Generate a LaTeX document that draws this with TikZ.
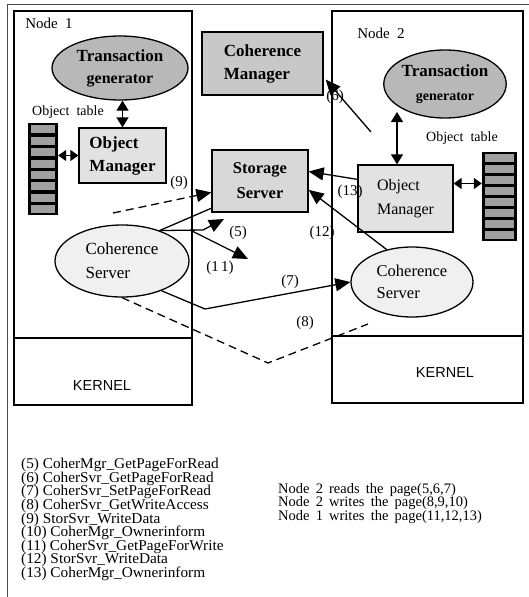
\documentclass[tikz,border=0pt]{standalone}
\usepackage{fontspec}
\setmainfont{Liberation Serif}
\newfontfamily\kernfont{Liberation Sans}
\newfontfamily\legfont[FakeStretch=1.02]{Liberation Serif}
\newfontfamily\legwfont[WordSpace=1.7]{Liberation Serif}
\usetikzlibrary{shapes.geometric,arrows.meta,calc}
\setlength{\lineskiplimit}{-20pt}
\definecolor{tggray}{HTML}{B8B8B8}
\definecolor{cmgray}{HTML}{C8C8C8}
\definecolor{ssgray}{HTML}{D8D8D8}
\definecolor{omgray}{HTML}{E2E2E2}
\definecolor{csgray}{HTML}{F0F0F0}
\definecolor{rowgray}{HTML}{A0A0A0}
\tikzset{
  frame/.style={draw, line width=1.2pt, inner sep=0pt},
  comp/.style={draw, line width=1.3pt, inner sep=0pt, align=left},
  tgen/.style={ellipse, draw, line width=1.3pt, fill=tggray, inner sep=0pt, align=center,
               font=\fontsize{17}{24}\selectfont\bfseries},
  csrv/.style={ellipse, draw, line width=1.3pt, fill=csgray, inner sep=0pt, align=left,
               font=\fontsize{17}{24}\selectfont},
  otab/.style={fill=black, inner sep=0pt, minimum width=30pt},
  lbl/.style={font=\fontsize{15}{15}\selectfont, inner sep=0pt},
  plain/.style={font=\fontsize{14}{14}\selectfont, inner sep=0pt},
  kern/.style={font=\kernfont\fontsize{14.5}{14.5}\selectfont, inner sep=0pt},
  conn/.style={line width=1.3pt},
  tip/.tip={Triangle[length=15pt,width=13pt]},
  stip/.tip={Triangle[length=10pt,width=12pt]},
  xtip/.tip={Triangle[length=8pt,width=11pt]},
  arr/.style={conn, -tip},
  darr/.style={conn, stip-stip},
  sdarr/.style={conn, xtip-xtip},
  dsh/.style={conn, dash pattern=on 8pt off 5pt},
  dsharr/.style={dsh, -tip},
}
\begin{document}
\begin{tikzpicture}[x=1pt,y=-1pt]
\useasboundingbox (0,0) rectangle (529,597);
% outer partial frame
\draw[line width=1pt, black!70] (7,597) -- (7,4) -- (529,4);
% node frames
\node[frame, minimum width=178pt, minimum height=394pt] (n1) at (103,208) {};
\node[frame, minimum width=191pt, minimum height=392pt] (n2) at (427.5,207) {};
\draw[line width=1.2pt] (n1.west |- 0,338) -- (n1.east |- 0,338);
\draw[line width=1.2pt] (n2.west |- 0,336) -- (n2.east |- 0,336);
\node[font=\fontsize{15}{15}\selectfont, inner sep=0pt] (n1lab) at (49,23) {Node\enspace 1};
\node[font=\fontsize{15}{15}\selectfont, inner sep=0pt] (n2lab) at (381,33) {Node\enspace 2};
\node[kern] (k1) at (102,386) {KERNEL};
\node[kern] (k2) at (445,373) {KERNEL};

% components
\node[tgen, minimum width=136pt, minimum height=64pt] (tg1) at (120,68) {Transaction\\[-2pt]{\fontsize{16}{16}\selectfont generator}};
\node[tgen, minimum width=120pt, minimum height=68pt] (tg2) at (445,84) {Transaction\\{\fontsize{14}{14}\selectfont generator}};
\node[comp, fill=cmgray, minimum width=121pt, minimum height=63pt,
      font=\fontsize{17}{23}\selectfont\bfseries] (cm) at (262.5,63.5) {Coherence\\Manager};
\node[comp, fill=omgray, minimum width=87pt, minimum height=55pt,
      font=\fontsize{17}{23}\selectfont\bfseries] (om1) at (122.5,155.5) {Object\\Manager};
\node[comp, fill=omgray, minimum width=95pt, minimum height=67pt,
      font=\fontsize{16}{24}\selectfont] (om2) at (405.5,198.5) {Object\\Manager};
\node[comp, fill=ssgray, minimum width=96pt, minimum height=62pt, align=center,
      font=\fontsize{16.5}{25}\selectfont\bfseries] (ss) at (260,181) {Storage\\Server};
\node[csrv, minimum width=134pt, minimum height=72pt] (cs1) at (122,261) {Coherence\\Server};
\node[csrv, minimum width=122pt, minimum height=70pt, font=\fontsize{16.5}{22}\selectfont] (cs2) at (412,282) {Coherence\\Server};

% object tables
\node[otab, minimum height=92pt] (ot1) at (43,169) {};
\node[otab, minimum width=35pt, minimum height=89pt] (ot2) at (499.5,196.5) {};
\foreach \i in {0,...,7} {
  \fill[rowgray] ($(ot1.north west)+(3,2.5+11.4*\i)$) rectangle ++(24,8);
  \fill[rowgray] ($(ot2.north west)+(3,2.5+11*\i)$) rectangle ++(29,7.5);
}
\node[plain] (ot1lab) at (68,112) {Object\enspace table};
\node[plain] (ot2lab) at (462,138) {Object\enspace table};

% local double arrows
\draw[darr] (tg1.south -| om1.north) -- (om1.north);
\draw[sdarr] (om1.west) -- (om1.west -| ot1.east);
\coordinate (a2top) at (397,112);
\draw[darr] (a2top) -- (a2top |- om2.north);
\coordinate (p2) at ($(om2.north east)!0.28!(om2.south east)$);
\coordinate (q2) at (p2 -| ot2.west);
\draw[sdarr] (p2) -- (q2);

% (6)
\coordinate (s6) at (371,132);
\coordinate (t6) at ($(cm.north east)!0.75!(cm.south east)+(2,0)$);
\draw[arr] (s6) -- (t6);
% (13)
\draw[arr] ($(om2.north west)!0.22!(om2.south west)$) -- ($(ss.north east)!0.35!(ss.south east)$);
% (12)
\draw[arr] (cs2.128) -- ($(ss.north east)!0.64!(ss.south east)$);
% (9)
\coordinate (s9) at (113,213);
\draw[dsharr] (s9) -- ($(ss.north west)!0.68!(ss.south west)$);
% line to storage server
\draw[conn] (cs1.39) -- ($(ss.north west)!0.93!(ss.south west)$);
% (5)
\coordinate (j5) at (203,230);
\coordinate (t5) at (224,219);
\draw[arr] (cs1.39) -- (j5) -- (t5);
% (11)
\coordinate (j11) at (190,230);
\coordinate (t11) at (248,259);
\draw[arr] (j11) -- (t11);
% (7)
\coordinate (k7) at (205,309);
\draw[arr] (cs1.-37) -- (k7) -- (cs2.west);
% (8)
\coordinate (m8) at (268,363);
\coordinate (e8) at (368,324);
\draw[dsh] (cs1.south) -- (m8) -- (e8);

% labels
\node[lbl] (l9) at (179,183) {(9)};
\node[lbl] (l5) at (238,233) {(5)};
\node[lbl] (l11) at (220,268) {(1\,1)};
\node[lbl] (l12) at (322,233) {(12)};
\node[lbl] (l13) at (350,192) {(13)};
\node[lbl] (l7) at (290,282) {(7)};
\node[lbl] (l8) at (305,323) {(8)};
\node[lbl] (l6) at (335,97) {(6)};

% legends
\node[anchor=north west, align=left, inner sep=0pt,
      font=\legfont\fontsize{15}{13.6}\selectfont] (leg1) at (21,458) {%
(5) CoherMgr\_GetPageForRead\\
(6) CoherSvr\_GetPageForRead\\
(7) CoherSvr\_SetPageForRead\\
(8) CoherSvr\_GetWriteAccess\\
(9) StorSvr\_WriteData\\
(10) CoherMgr\_Ownerinform\\
(11) CoherSvr\_GetPageForWrite\\
(12) StorSvr\_WriteData\\
(13) CoherMgr\_Ownerinform};
\node[anchor=north west, align=left, inner sep=0pt,
      font=\legwfont\fontsize{14.5}{13.5}\selectfont] (leg2) at (278,483) {%
Node 2 reads the page(5,6,7)\\
Node 2 writes the page(8,9,10)\\
Node 1 writes the page(11,12,13)};
\end{tikzpicture}
\end{document}
